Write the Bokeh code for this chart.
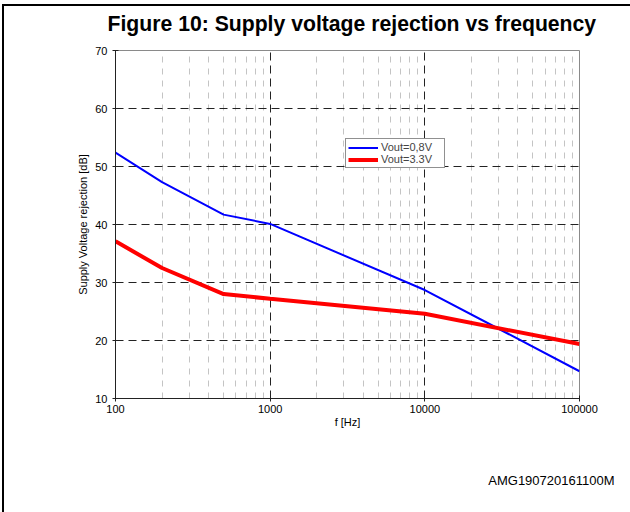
from bokeh.plotting import figure
from bokeh.models import FixedTicker, Legend, LegendItem, Title
from bokeh.embed import file_html
from bokeh.resources import INLINE

# ---- data ----
freq = [100, 200, 500, 1000, 10000, 100000]
psrr_vout_08 = [52.4, 47.3, 41.7, 40.1, 28.7, 14.7]
psrr_vout_33 = [37.1, 32.5, 28.0, 27.2, 24.6, 19.4]
series_names = ["Vout=0,8V", "Vout=3.3V"]
x_ticks = [100, 1000, 10000, 100000]
x_tick_labels = ["100", "1000", "10000", "100000"]
x_minor_ticks = [m * d for d in (100, 1000, 10000) for m in range(2, 10)]
y_ticks = [10, 20, 30, 40, 50, 60, 70]

title_text = "Figure 10: Supply voltage rejection vs frequency"
x_label = "f [Hz]"
y_label = "Supply Voltage rejection [dB]"
code_text = "AMG190720161100M"

FONT = "Liberation Sans"

p = figure(
    x_axis_type="log", x_range=(100, 100000), y_range=(10, 70),
    frame_width=464, frame_height=348,
    min_border_left=111, min_border_right=51, min_border_top=44, min_border_bottom=114,
    output_backend="svg", toolbar_location=None,
    background_fill_color="white", border_fill_color="white",
)
p.styles = {"margin-left": "2px", "margin-top": "4px",
            "border-left": "2px solid black", "border-top": "2px solid black"}

p.outline_line_color = "#8a8a8a"
p.outline_line_width = 1

# title (outermost panel above the plot)
p.title.text = title_text
p.title.align = "left"
p.title.offset = -8
p.title.standoff = 0
p.title.vertical_align = "bottom"
p.title.text_font = FONT
p.title.text_font_size = "21.2px"
p.title.text_font_style = "bold"
p.title.text_color = "black"

# empty spacer between title and plot frame
p.add_layout(Title(text=" ", text_font_size="1px", standoff=13), "above")

# axes
for ax in (p.xaxis[0], p.yaxis[0]):
    ax.axis_line_color = "#222222"
    ax.axis_line_width = 1
    ax.major_tick_in = 3
    ax.major_tick_out = 3
    ax.major_tick_line_color = "#222222"
    ax.minor_tick_line_color = None
    ax.major_label_text_font = FONT
    ax.major_label_text_font_size = "11px"
    ax.major_label_text_color = "black"
    ax.axis_label_text_font = FONT
    ax.axis_label_text_font_size = "11px"
    ax.axis_label_text_font_style = "normal"
    ax.axis_label_text_color = "black"

p.xaxis.ticker = FixedTicker(ticks=x_ticks, minor_ticks=x_minor_ticks)
p.xaxis.major_label_overrides = {t: s for t, s in zip(x_ticks, x_tick_labels)}
p.xaxis.major_label_standoff = 2
p.xaxis.axis_label = x_label
p.xaxis.axis_label_standoff = 0

p.yaxis.ticker = FixedTicker(ticks=y_ticks)
p.yaxis.major_label_standoff = 5
p.yaxis.axis_label = y_label
p.yaxis.axis_label_standoff = 3

# grids
p.xgrid.ticker = FixedTicker(ticks=x_ticks, minor_ticks=x_minor_ticks)
p.xgrid.grid_line_color = "#222222"
p.xgrid.grid_line_dash = "8 5"
p.xgrid.minor_grid_line_color = "#c4c4c4"
p.xgrid.minor_grid_line_dash = "6 6"
p.ygrid.ticker = FixedTicker(ticks=y_ticks)
p.ygrid.grid_line_color = "#222222"
p.ygrid.grid_line_dash = "8 5"

r_blue = p.line(freq, psrr_vout_08, line_color="#0000ff", line_width=2)
r_red = p.line(freq, psrr_vout_33, line_color="#ff0000", line_width=4)

legend = Legend(
    items=[LegendItem(label=series_names[0], renderers=[r_blue]),
           LegendItem(label=series_names[1], renderers=[r_red])],
    location=(230, 230), margin=0, padding=2, spacing=0,
    glyph_width=30, glyph_height=11, label_height=11, label_standoff=3, label_width=61,
    label_text_font=FONT, label_text_font_size="11px",
    border_line_color="#222222", border_line_width=1,
    background_fill_color="white", background_fill_alpha=1,
)
p.add_layout(legend, "center")

# empty spacer below the x axis, then the document code
p.add_layout(Title(text=" ", text_font_size="1px", standoff=37), "below")
code_title = Title(text=code_text, align="right", offset=-35, standoff=0,
                   vertical_align="bottom",
                   text_font=FONT, text_font_size="13px", text_font_style="normal",
                   text_color="black")
p.add_layout(code_title, "below")

open("out.html", "w").write(file_html(p, INLINE))
